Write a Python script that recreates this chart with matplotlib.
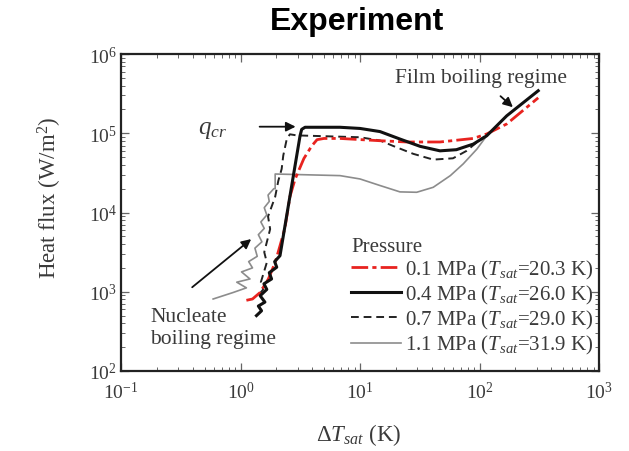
import matplotlib
matplotlib.use("Agg")
import matplotlib.pyplot as plt

plt.rcParams['font.family'] = ['Liberation Serif', 'DejaVu Serif']
plt.rcParams['mathtext.fontset'] = 'custom'
plt.rcParams['mathtext.rm'] = 'Liberation Serif'
plt.rcParams['mathtext.it'] = 'Liberation Serif:italic'
plt.rcParams['mathtext.bf'] = 'Liberation Serif:bold'

TXT = '#3a3a3a'

# Boiling curves: wall superheat dT_sat (K) vs heat flux q (W/m^2)
dt_01 = [1.12, 1.26, 1.46, 1.71, 1.95, 2.14, 2.35, 2.59, 2.86, 3.39, 3.94, 4.37,
         5.0, 6.8, 14.7, 24.5, 46.7, 88.7, 115, 169, 310]
q_01 = [780, 810, 980, 1450, 2340, 3800, 6300, 1.58e4, 2.63e4, 4.8e4, 6.9e4, 8.3e4,
        8.6e4, 8.6e4, 8.05e4, 7.76e4, 7.76e4, 8.6e4, 9.8e4, 1.31e5, 2.8e5]

dt_04 = [1.36, 1.50, 1.41, 1.60, 1.46, 1.66, 1.57, 1.82, 1.74, 2.01, 1.93, 2.14,
         2.77, 3.15, 3.25, 3.47, 6.8, 10, 14.7, 21.6, 31.8, 46.7, 64, 88.7, 115,
         169, 310]
q_04 = [500, 575, 660, 740, 890, 1070, 1260, 1450, 1740, 2040, 2400, 2850,
        2.92e4, 9.3e4, 1.12e5, 1.19e5, 1.19e5, 1.15e5, 1.05e5, 8.45e4, 6.84e4,
        6.0e4, 6.2e4, 7.3e4, 9.3e4, 1.66e5, 3.44e5]

dt_07 = [1.45, 1.55, 1.48, 1.66, 1.58, 1.77, 1.70, 1.95, 2.07, 2.21, 2.28, 2.44,
         2.59, 2.95, 10, 14.7, 19, 27.9, 41, 60, 78, 95, 110]
q_07 = [950, 1070, 1320, 2340, 3160, 6170, 8900, 1.58e4, 2.5e4, 3.55e4, 5.25e4,
        8.5e4, 9.7e4, 9.4e4, 8.9e4, 8.1e4, 6.9e4, 5.5e4, 4.65e4, 4.83e4, 6.0e4,
        7.7e4, 9.1e4]

dt_11 = [0.59, 0.87, 1.12, 0.93, 1.20, 1.02, 1.26, 1.17, 1.38, 1.32, 1.51, 1.41,
         1.58, 1.48, 1.66, 1.58, 1.74, 1.70, 1.90, 1.95, 1.95, 6.8, 10, 14.7,
         21.6, 29.8, 41, 57, 73, 95, 115]
q_11 = [810, 980, 1120, 1320, 1450, 1780, 2000, 2400, 2800, 3550, 4270, 5250,
        6300, 7600, 9300, 1.15e4, 1.38e4, 1.66e4, 2.0e4, 2.0e4, 3.06e4, 2.92e4,
        2.65e4, 2.19e4, 1.82e4, 1.8e4, 2.08e4, 2.92e4, 4.1e4, 6.3e4, 9.3e4]

labels = [r'0.1 MPa ($T_{sat}$=20.3 K)', r'0.4 MPa ($T_{sat}$=26.0 K)',
          r'0.7 MPa ($T_{sat}$=29.0 K)', r'1.1 MPa ($T_{sat}$=31.9 K)']

fig = plt.figure(figsize=(6.29, 4.52), dpi=100)
ax = fig.add_axes([0.1924, 0.177, 0.7599, 0.7013])

l11, = ax.plot(dt_11, q_11, color='#8c8c8c', lw=1.2)
l07, = ax.plot(dt_07, q_07, color='#222222', lw=1.4, ls=(0, (4, 2.5)))
l01, = ax.plot(dt_01, q_01, color='#e8231f', lw=2.0, ls=(0, (6, 1.5, 1.5, 1.5)))
l04, = ax.plot(dt_04, q_04, color='#111111', lw=2.2)

ax.set_xscale('log')
ax.set_yscale('log')
ax.set_xlim(0.1, 1000)
ax.set_ylim(100, 1e6)

for s in ax.spines.values():
    s.set_linewidth(1.6)
    s.set_color('#222222')
ax.tick_params(which='both', direction='in', top=True, right=True, colors='#666666',
               labelcolor=TXT, labelsize=14)
ax.tick_params(which='major', length=6, width=0.9)
ax.tick_params(which='minor', length=3, width=0.7)
ax.tick_params(axis='x', pad=7)
ax.tick_params(axis='y', pad=3)

# Legend
leg = ax.legend([l01, l04, l07, l11], labels, title='Pressure', frameon=False,
                loc='upper left', bbox_to_anchor=(0.482, 0.423), borderaxespad=0,
                borderpad=0, fontsize=15, title_fontsize=15, handlelength=2.4,
                handletextpad=0.15, labelspacing=0.1)
leg._legend_box.align = 'left'
for t in leg.get_texts():
    t.set_color(TXT)
leg.get_title().set_color(TXT)

# Annotations
arrow = dict(arrowstyle='-|>', color='#111111', lw=1.3, mutation_scale=14)
ax.annotate('', xy=(3.05, 1.21e5), xytext=(1.37, 1.21e5), arrowprops=arrow)
ax.text(0.589, 1.13e5, r'$q_{cr}$', fontsize=18, color=TXT, ha='center', va='center')
ax.annotate('', xy=(198, 2.02e5), xytext=(144, 3.1e5), arrowprops=arrow)
ax.text(103, 5.1e5, 'Film boiling regime', fontsize=15.5, color=TXT,
        ha='center', va='center')
ax.annotate('', xy=(1.28, 4860), xytext=(0.378, 1083), arrowprops=arrow)
ax.text(0.175, 354, 'Nucleate\nboiling regime', fontsize=15.5, color=TXT,
        ha='left', va='center', linespacing=1.15)

fig.text(0.568, 1 - 22 / 452, 'Experiment', fontsize=23, fontweight='bold',
         family='Liberation Sans', ha='center', va='center', color='black')
fig.text(50 / 629, 1 - 197.5 / 452, r'Heat flux (W/m$^2$)', fontsize=16.5,
         rotation=90, ha='center', va='center', color=TXT)
fig.text(359 / 629, 1 - 435 / 452, r'$\mathit{\Delta T_{sat}}$ (K)', fontsize=16.5,
         ha='center', va='center', color=TXT)

fig.savefig('out.png', dpi=100, facecolor='white')
